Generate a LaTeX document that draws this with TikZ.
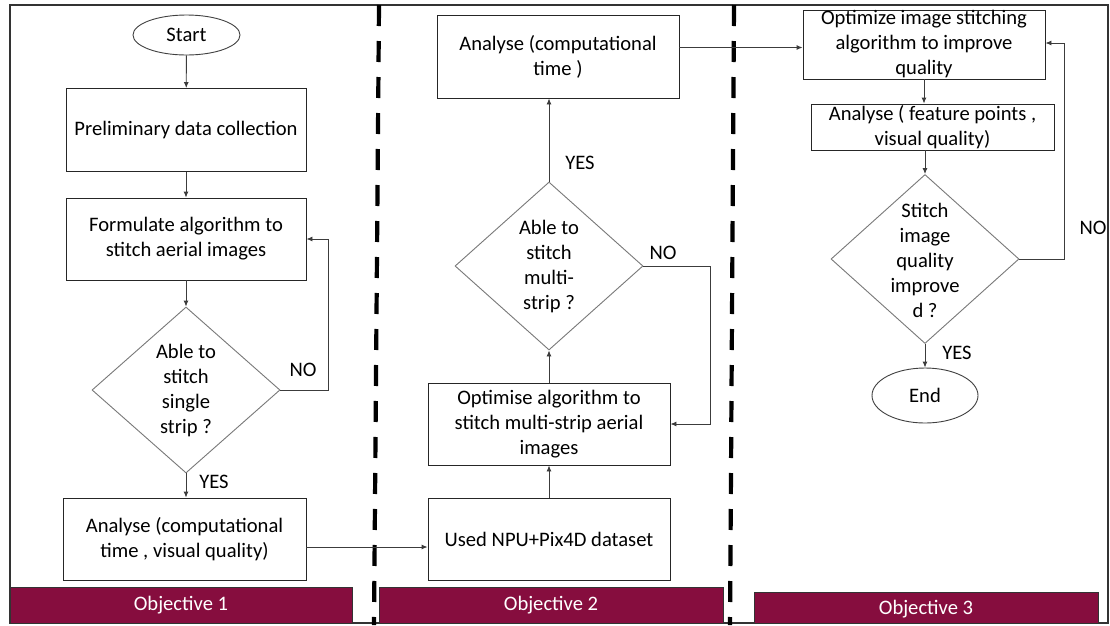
\documentclass[tikz,border=0pt]{standalone}
\usepackage{fontspec}
\setmainfont{Carlito}
\usetikzlibrary{shapes.geometric,arrows.meta,calc}
\definecolor{maroon}{RGB}{134,13,62}
\definecolor{linegray}{RGB}{60,60,60}
\definecolor{diagray}{RGB}{120,120,120}
\tikzset{
  every node/.style={font=\fontsize{20.6}{25}\selectfont, text=black},
  box/.style={draw=black!85, line width=0.9pt, rectangle, align=center, inner sep=0pt},
  term/.style={draw=black!75, line width=0.9pt, ellipse, inner sep=0pt},
  dec/.style={draw=diagray, line width=0.9pt, diamond, inner sep=0pt},
  conn/.style={draw=linegray, line width=0.9pt, -{Latex[length=6pt,width=5pt]}},
  objbar/.style={draw=black!80, line width=0.8pt, fill=maroon, text=white, inner sep=0pt},
  sep/.style={line width=4.2pt, dash pattern=on 21pt off 15pt, black},
  lbl/.style={inner sep=0pt}
}
\begin{document}
\begin{tikzpicture}[x=1pt,y=-1pt]
\useasboundingbox (0,0) rectangle (1110,625);
\fill[white] (0,0) rectangle (1110,625);
% outer frame
\draw[black!80, line width=1.4pt] (10,5) rectangle (1108,623);
% separators
\draw[sep] (379,5) -- (374,625);
\draw[sep] (734,5) -- (730,625);

% Objective 1
\node[term, minimum width=107pt, minimum height=40pt] (start) at (186.5,35) {Start};
\node[box, minimum width=240pt, minimum height=83pt] (prelim) at (186,130) {Preliminary data collection};
\node[box, minimum width=240pt, minimum height=82pt] (formulate) at (186,239) {Formulate algorithm to\\stitch aerial images};
\node[dec, minimum width=188pt, minimum height=166pt] (d1) at (186,390) {};
\node[lbl, align=center] (d1t) at (d1.center) {Able to\\stitch\\single\\strip ?};
\node[box, minimum width=243pt, minimum height=82pt] (an1) at (184.5,539) {Analyse (computational\\time , visual quality)};
\coordinate (n1) at (328,390);
\node[lbl] (no1) at (303,370) {NO};
\node[lbl] (yes1) at (214,482) {YES};

% Objective 2
\node[box, minimum width=242pt, minimum height=82pt] (used) at (549,539) {Used NPU+Pix4D dataset};
\node[box, minimum width=242pt, minimum height=82pt] (opt) at (549,424) {Optimise algorithm to\\stitch multi-strip aerial\\images};
\node[dec, minimum width=188pt, minimum height=168pt] (d2) at (549,266) {};
\node[lbl, align=center] (d2t) at (d2.center) {Able to\\stitch\\multi-\\strip ?};
\node[box, minimum width=242pt, minimum height=83pt] (an2) at (558,56.5) {Analyse (computational\\time )};
\coordinate (n2) at (710,266);
\node[lbl] (yes2) at (580,163) {YES};
\node[lbl] (no2) at (663,253) {NO};

% Objective 3
\node[box, minimum width=242pt, minimum height=69pt] (opt3) at (924,44.5) {Optimize image stitching\\algorithm to improve\\quality};
\node[box, minimum width=243pt, minimum height=46pt] (an3) at (932.5,127) {Analyse ( feature points ,\\visual quality)};
\node[dec, minimum width=188pt, minimum height=169pt] (d3) at (925,259) {};
\node[lbl, align=center] (d3t) at (925,260) {Stitch\\image\\quality\\improve\\d ?};
\node[term, minimum width=106pt, minimum height=55pt] (endn) at (925,395.5) {End};
\coordinate (n3) at (1064,259);
\node[lbl] (no3) at (1093,228) {NO};
\node[lbl] (yes3) at (957,353) {YES};

% bars
\node[objbar, minimum width=342pt, minimum height=36pt] (ob1) at (181,605) {Objective 1};
\node[objbar, minimum width=344pt, minimum height=36pt] (ob2) at (551,605) {Objective 2};
\node[objbar, minimum width=344pt, minimum height=31pt, text depth=0pt] (ob3) at (926,607.5) {Objective 3};

% connectors
\draw[conn] (start) -- (prelim);
\draw[conn] (prelim) -- (formulate);
\draw[conn] (formulate) -- (d1.north);
\draw[conn] (d1.south) -- (d1.south |- an1.north);
\draw[conn] (d1.east) -- (n1) |- (formulate.east);
\draw[conn] ([yshift=-8pt]an1.east) -- ([yshift=-8pt]used.west);
\draw[conn] (used) -- (opt);
\draw[conn] (opt) -- (d2.south);
\draw[conn] (d2.north) -- (d2.north |- an2.south);
\draw[conn] (d2.east) -- (n2) |- (opt.east);
\draw[conn] ([yshift=9pt]an2.east) -- ([yshift=9pt]an2.east -| opt3.west);
\draw[conn] (opt3.south) -- (opt3.south |- an3.north);
\draw[conn] (an3.south -| d3.north) -- (d3.north);
\draw[conn] (d3.east) -- (n3) |- ([yshift=1.5pt]opt3.east);
\draw[conn] (d3.south) -- (endn.north);
\end{tikzpicture}
\end{document}
